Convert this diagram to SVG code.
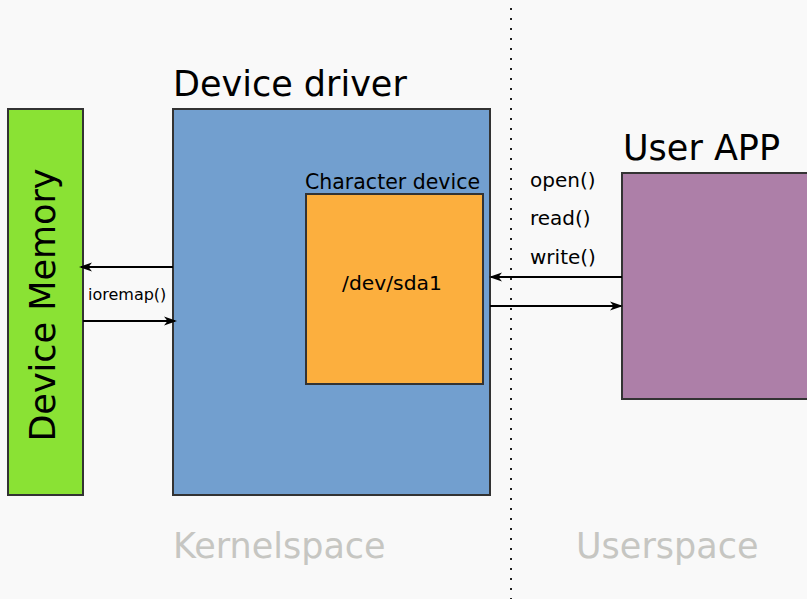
<svg xmlns="http://www.w3.org/2000/svg" width="807" height="599" viewBox="0 0 807 599">
<defs>
<style>
text{font-family:"DejaVu Sans","Liberation Sans",sans-serif;fill:#000}
.box{stroke:#333;stroke-width:2}
.conn{stroke:#000;stroke-width:2;fill:none}
.space{fill:#c6c6c2;font-size:35px}
</style>
<marker id="ah" markerUnits="userSpaceOnUse" markerWidth="14" markerHeight="10" refX="11" refY="5" orient="auto" viewBox="0 0 14 10">
<path d="M0,0.5 L13,5 L0,9.5 L3.5,5 Z" fill="#000"/>
</marker>
</defs>
<rect width="807" height="599" fill="#f9f9f9"/>
<line x1="511" y1="8" x2="511" y2="599" stroke="#222" stroke-width="2" stroke-dasharray="2 8"/>
<g id="device-memory">
<rect class="box" x="8" y="109" width="75" height="386" fill="#8ae234"/>
<text transform="translate(55,305) rotate(-90)" text-anchor="middle" font-size="35">Device Memory</text>
</g>
<g id="device-driver">
<text x="173" y="96" font-size="35">Device driver</text>
<rect class="box" x="173" y="109" width="317" height="386" fill="#729fcf"/>
</g>
<g id="character-device">
<text x="305" y="189" font-size="20.5">Character device</text>
<rect class="box" x="306" y="194" width="177" height="190" fill="#fcaf3e"/>
<text x="392" y="290" text-anchor="middle" font-size="20.3">/dev/sda1</text>
</g>
<g id="user-app">
<text x="623" y="160" font-size="35">User APP</text>
<rect class="box" x="622" y="173" width="200" height="226" fill="#ad7fa8"/>
</g>
<g id="connectors">
<line class="conn" x1="173" y1="267" x2="81" y2="267" marker-end="url(#ah)"/>
<line class="conn" x1="83" y1="321" x2="175" y2="321" marker-end="url(#ah)"/>
<line class="conn" x1="622" y1="277" x2="491" y2="277" marker-end="url(#ah)"/>
<line class="conn" x1="490" y1="306" x2="621" y2="306" marker-end="url(#ah)"/>
<text x="88" y="300" font-size="16">ioremap()</text>
<text x="530" y="187" font-size="20">open()</text>
<text x="530" y="225" font-size="20">read()</text>
<text x="530" y="264" font-size="20">write()</text>
</g>
<text class="space" x="173" y="558">Kernelspace</text>
<text class="space" x="576" y="558">Userspace</text>
</svg>
